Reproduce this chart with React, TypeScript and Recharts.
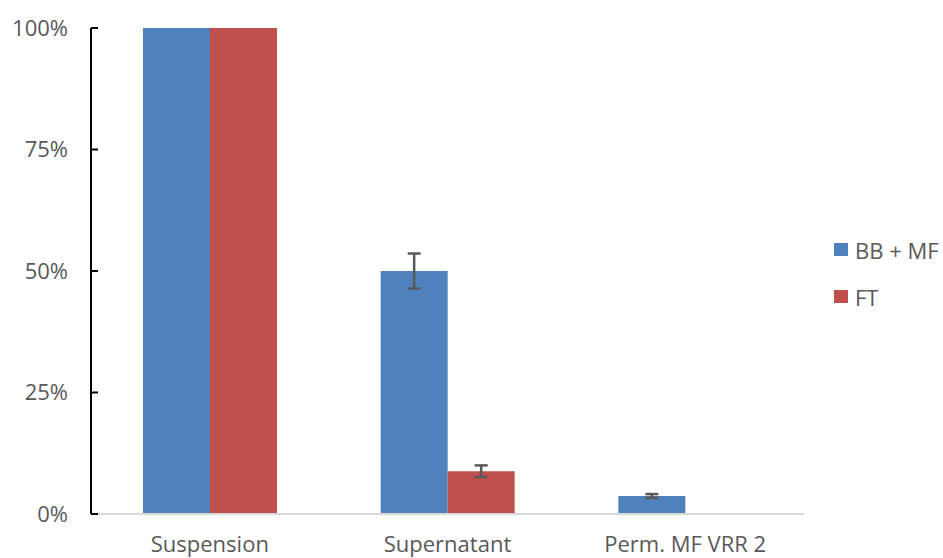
import { BarChart, Bar, XAxis, YAxis, ErrorBar } from "recharts"

const categories = ["Suspension", "Supernatant", "Perm. MF VRR 2"]
const bbValues = [100, 50, 3.7]
const bbErrors = [0, 3.6, 0.4]
const ftValues: (number | null)[] = [100, 8.8, null]
const ftErrors: (number | null)[] = [0, 1.2, null]
const yTicks = [0, 25, 50, 75, 100]

const seriesNames = ["BB + MF", "FT"]
const BLUE = "#4F81BD"
const RED = "#C0504D"
const TEXT = "#595959"
const FONT = "'Open Sans', sans-serif"

const data = categories.map((name, i) => ({
  name,
  bb: bbValues[i],
  bbErr: bbErrors[i],
  ft: ftValues[i],
  ftErr: ftErrors[i],
}))

const YTick = (props: any) => {
  const { x, y, payload } = props
  return (
    <g>
      <line x1={x} x2={x + 7} y1={y} y2={y} stroke="#000" strokeWidth={2} />
      <text x={x - 23} y={y} dy="0.36em" textAnchor="end" fill={TEXT} fontSize={22} fontFamily={FONT}>
        {payload.value}%
      </text>
    </g>
  )
}

// axis line sits at y, label baseline a bit above the bottom edge
const XTick = (props: any) => {
  const { x, y, payload } = props
  return (
    <text x={x} y={y + 38} textAnchor="middle" fill={TEXT} fontSize={22} fontFamily={FONT}>
      {payload.value}
    </text>
  )
}

export default function App() {
  return (
    <div style={{ position: "absolute", left: 0, top: 0, width: 943, height: 558, background: "#fff" }}>
      <BarChart
        width={943}
        height={558}
        data={data}
        margin={{ top: 28, right: 139, left: 0, bottom: 0 }}
        barGap={0}
        barSize={67}
      >
        <XAxis
          dataKey="name"
          height={44}
          axisLine={{ stroke: "#D9D9D9", strokeWidth: 2 }}
          tickLine={false}
          tickSize={0}
          tickMargin={0}
          tick={<XTick />}
          interval={0}
        />
        <YAxis
          width={91}
          domain={[0, 100]}
          ticks={yTicks}
          axisLine={{ stroke: "#000", strokeWidth: 2 }}
          tickLine={false}
          tickSize={0}
          tickMargin={0}
          tick={<YTick />}
        />
        <Bar dataKey="bb" name={seriesNames[0]} fill={BLUE} isAnimationActive={false}>
          <ErrorBar dataKey="bbErr" width={6.5} stroke="#595959" strokeWidth={2.5} />
        </Bar>
        <Bar dataKey="ft" name={seriesNames[1]} fill={RED} isAnimationActive={false}>
          <ErrorBar dataKey="ftErr" width={6.5} stroke="#595959" strokeWidth={2.5} />
        </Bar>
      </BarChart>
      <div style={{ position: "absolute", left: 834, top: 226, fontFamily: FONT, fontSize: 22, color: TEXT }}>
        {seriesNames.map((n, i) => (
          <div key={n} style={{ display: "flex", alignItems: "center", height: 47 }}>
            <span style={{ display: "inline-block", width: 14, height: 13, background: i === 0 ? BLUE : RED, marginRight: 7 }} />
            <span>{n}</span>
          </div>
        ))}
      </div>
    </div>
  )
}
